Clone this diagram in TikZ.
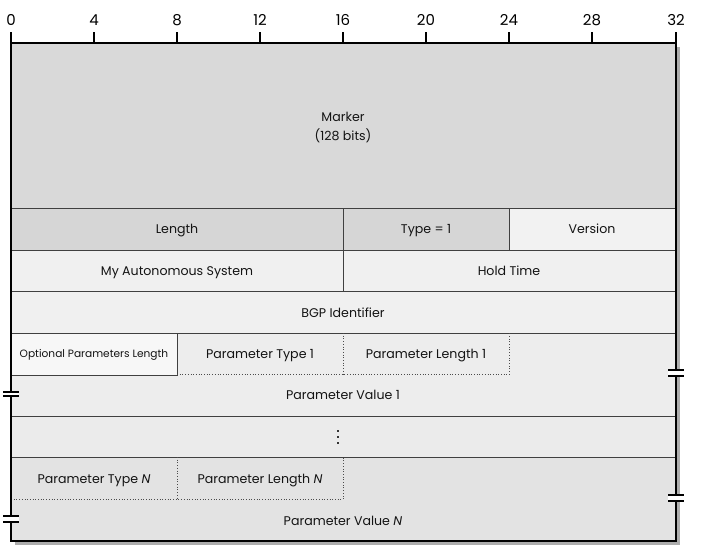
\documentclass[tikz,border=0pt]{standalone}
\usepackage{fontspec}
\setmainfont{Poppins}
\begin{document}
\begin{tikzpicture}[x=1pt,y=-1pt,
  lbl/.style={font=\fontsize{12.6}{14}\selectfont, inner sep=0pt, text=black!92, text height=8.8pt, text depth=0pt},
  small/.style={font=\fontsize{10.6}{12}\selectfont, inner sep=0pt, text=black!92, text height=7.4pt, text depth=0pt},
  num/.style={font=\fontsize{15}{17}\selectfont, inner sep=0pt, text height=10.5pt, text depth=0pt},
  sep/.style={draw=black!75, line width=0.9pt},
  dotsep/.style={draw=black!70, line width=0.7pt, dotted},
  brk/.style={line width=1.3pt, black}]
\useasboundingbox (0,0) rectangle (701,549);
% shadow
\fill[black!32] (15,47) rectangle (680,545);
% fills
\fill[black!15] (11,43) rectangle (676,208);
\fill[black!16] (11,208) rectangle (509,250);
\fill[black!5] (509,208) rectangle (676,250);
\fill[black!6] (11,250) rectangle (676,333);
\fill[black!7] (11,333) rectangle (676,416);
\fill[black!3] (11,333) rectangle (177,375);
\fill[black!8] (11,416) rectangle (676,457);
\fill[black!11] (11,457) rectangle (676,541);
% row separators
\draw[sep] (11,208) -- (676,208);
\draw[sep] (11,250) -- (676,250);
\draw[sep] (11,291) -- (676,291);
\draw[sep] (11,333) -- (676,333);
\draw[sep] (11,416) -- (676,416);
\draw[sep] (11,457) -- (676,457);
\draw[sep] (343,208) -- (343,291);
\draw[sep] (509,208) -- (509,250);
\draw[sep] (177,333) -- (177,375) -- (11,375);
\draw[dotsep] (177,374.5) -- (509,374.5) -- (509,333);
\draw[dotsep] (343,333) -- (343,374.5);
\draw[dotsep] (11,499) -- (343,499) -- (343,457);
\draw[dotsep] (177,457) -- (177,499);
% outer border
\draw[line width=1.4pt] (11,32) -- (11,541) -- (676,541) -- (676,32);
\draw[line width=1.2pt] (11,43) -- (676,43);
% ticks and labels
\foreach \n/\x in {0/11,4/94,8/177,12/260,16/343,20/426,24/509,28/592,32/676}{
  \draw[line width=1.2pt] (\x,32) -- (\x,43);
  \node[num] (t\n) at (\x,20) {\n};
}
% break marks
\fill[white] (3,392.5) rectangle (19,395.5);
\draw[brk] (3,392) -- (19,392) (3,396) -- (19,396);
\fill[white] (668,370.5) rectangle (684,375.5);
\draw[brk] (668,370) -- (684,370) (668,376) -- (684,376);
\fill[white] (3,516.5) rectangle (19,521.5);
\draw[brk] (3,516) -- (19,516) (3,522) -- (19,522);
\fill[white] (668,495.5) rectangle (684,500.5);
\draw[brk] (668,495) -- (684,495) (668,501) -- (684,501);
% vertical ellipsis
\foreach \yy in {431,437,443} \fill[black!80] (337.2,\yy-0.8) rectangle (338.8,\yy+0.8);
% texts
\node[lbl] (marker) at (343,117) {Marker};
\node[lbl] (bits) at (343,136) {(128 bits)};
\node[lbl] (len) at (177,229) {Length};
\node[lbl] (type) at (426,229) {Type = 1};
\node[lbl] (ver) at (592,229) {Version};
\node[lbl] (as) at (177,271) {My Autonomous System};
\node[lbl] (hold) at (509,271) {Hold Time};
\node[lbl] (bgp) at (343,313) {BGP Identifier};
\node[small] (opl) at (94,354) {Optional Parameters Length};
\node[lbl] (pt1) at (260,354) {Parameter Type 1};
\node[lbl] (pl1) at (426,354) {Parameter Length 1};
\node[lbl] (pv1) at (343,395) {Parameter Value 1};
\node[lbl] (ptn) at (94,479) {Parameter Type \textit{N}};
\node[lbl] (pln) at (260,479) {Parameter Length \textit{N}};
\node[lbl] (pvn) at (343,521) {Parameter Value \textit{N}};
\end{tikzpicture}
\end{document}
